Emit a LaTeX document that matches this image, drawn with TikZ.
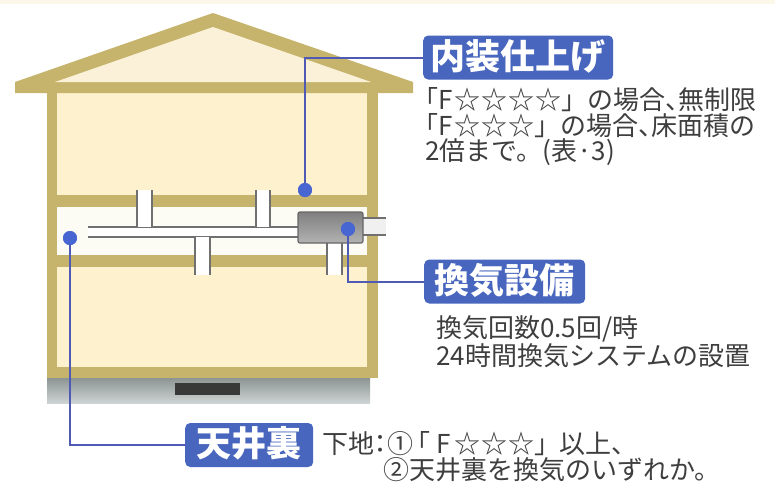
\documentclass[tikz,border=0pt]{standalone}
\usepackage{fontspec}
\setmainfont{Noto Sans CJK JP}
\newfontfamily\halfw[RawFeature=+halt]{Noto Sans CJK JP}
\newcommand\kbL{{\halfw 「}}
\newcommand\kbR{{\halfw 」}}
\newcommand\kten{{\halfw 、}}
\newcommand\kcolon{{\halfw ：}}
\newcommand\bigstar[1]{\makebox[#1pt]{\fontsize{26}{26}\selectfont ☆}}
\definecolor{frame}{RGB}{198,180,108}
\definecolor{room}{RGB}{253,241,206}
\definecolor{attic}{RGB}{250,241,216}
\definecolor{crawl}{RGB}{252,251,244}
\definecolor{duct}{RGB}{112,112,112}
\definecolor{tagblue}{RGB}{72,102,190}
\definecolor{leader}{RGB}{78,90,180}
\definecolor{dotblue}{RGB}{72,102,210}
\definecolor{bodytext}{RGB}{62,62,62}
\begin{document}
\begin{tikzpicture}[x=1pt,y=-1pt,
  tag/.style={fill=tagblue,rounded corners=5pt,text=white,
    font=\fontsize{35}{35}\selectfont\bfseries,inner xsep=0pt,inner ysep=0pt,
    minimum height=44pt,text height=27pt,text depth=4pt,anchor=west},
  body/.style={text=bodytext,font=\fontsize{26}{26}\selectfont,
    inner sep=0pt,anchor=base west},
  spot/.style={circle,fill=dotblue,inner sep=0pt,minimum size=14pt},
  leadline/.style={draw=leader,line width=2pt},
  ductline/.style={draw=duct,line width=1.8pt},
]
\useasboundingbox (0,0) rectangle (775,483);
\fill[white] (0,0) rectangle (775,483);
\fill[crawl!70!room] (0,0) rectangle (775,4);

% rooms and ceiling void
\fill[room] (57,93) rectangle (367,195);
\fill[crawl] (57,207) rectangle (367,255);
\fill[room] (57,267) rectangle (367,367);

% foundation with underfloor vent
\shade[top color={rgb,255:red,140;green,148;blue,148},
       bottom color={rgb,255:red,206;green,211;blue,211}] (47,378) rectangle (370,403);
\fill[black!78] (175,383) rectangle (240,395);

% timber frame
\fill[frame] (15,82) -- (213,13) -- (413,82) -- (413,93) -- (15,93) -- cycle;
\fill[attic] (55,82) -- (213,27) -- (371,82) -- cycle;
\fill[frame] (47,93) rectangle (57,378);
\fill[frame] (367,93) rectangle (378,378);
\fill[frame] (57,367) rectangle (367,378);
\fill[frame] (57,195) rectangle (367,207);
\fill[frame] (57,255) rectangle (367,267);

% main duct
\fill[white] (88,227) rectangle (298,237);
\draw[ductline] (88,227) -- (298,227);
\draw[ductline] (88,237) -- (298,237);
% branch ducts
\foreach \a/\b/\c/\d in {137/152/190/227, 256/270/190/227, 195/210/237/275, 327/342/243/275}{
  \fill[white] (\a,\c) rectangle (\b,\d);
  \draw[ductline] (\a,\c) -- (\a,\d);
  \draw[ductline] (\b,\c) -- (\b,\d);
}
% outlet through the wall
\fill[white!94!black] (363,218) rectangle (386,235);
\draw[ductline] (363,218) -- (386,218);
\draw[ductline] (363,235) -- (386,235);
% fan unit
\shade[rounded corners=2pt,top color=black!50,middle color=white!97!black,
       bottom color=black!30,draw=black!60,line width=1.2pt] (298,212) rectangle (363,243);

% callout spots
\node[spot] (dA) at (305,190) {};
\node[spot] (dB) at (348,229) {};
\node[spot] (dC) at (70,238) {};

% tags
\node[tag,minimum width=190pt] (tA) at (423,57.5) {内装仕上げ};
\node[tag,minimum width=161pt] (tB) at (424,281.5) {換気設備};
\node[tag,minimum width=128pt] (tC) at (185,445) {天井裏};

% leaders
\draw[leadline] (dA.center) |- (tA.west);
\draw[leadline] (dB.center) |- (tB.west);
\draw[leadline] (dC.center) |- (tC.west);
\node[spot] at (dA) {};
\node[spot] at (dB) {};
\node[spot] at (dC) {};

% descriptions
\node[body] (a1) at (425,109.5) {\kbL F\hspace{1pt}\bigstar{27}\bigstar{27}\bigstar{27}\bigstar{27}」の場合\kten 無制限};
\node[body] (a2) at (425,135.5) {\kbL F\hspace{1pt}\bigstar{27}\bigstar{27}\bigstar{27}」の場合\kten 床面積の};
\node[body] (a3) at (425,160) {2倍まで。(表·3)};
\node[body] (b1) at (436,337) {換気回数0.5回/時};
\node[body] (b2) at (436,365) {24時間換気システムの設置};
\node[body] (c1) at (322,453) {下地\kcolon ①\hspace{4pt}\kbL\hspace{6pt}F\hspace{3pt}\bigstar{27}\bigstar{27}\bigstar{27}\kbR\hspace{12pt}以上\kten};
\node[body] (c2) at (383,479) {②天井裏を換気のいずれか。};
\end{tikzpicture}
\end{document}
